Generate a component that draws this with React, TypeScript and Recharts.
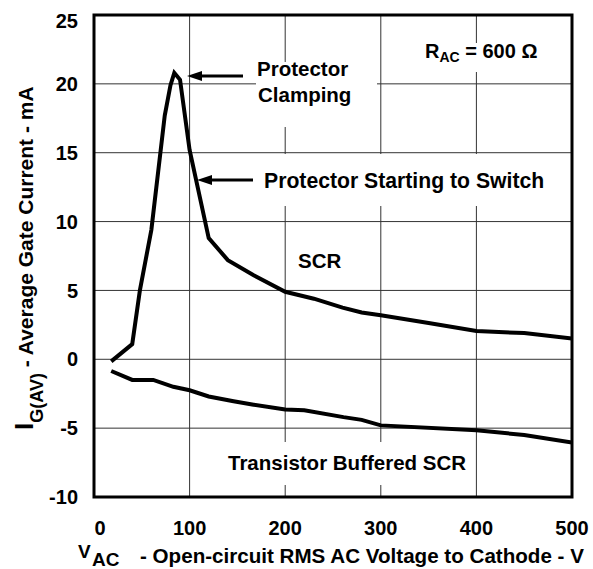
import React from 'react';
import {
  LineChart,
  Line,
  XAxis,
  YAxis,
  CartesianGrid,
  ReferenceArea,
  Customized,
} from 'recharts';

// SCR curve (upper)
const scrVoltage = [18, 40, 48, 60, 74, 80, 84, 90, 100, 120, 140, 167, 200, 230, 260, 280, 300, 350, 400, 450, 500];
const scrCurrent = [-0.15, 1.1, 5.0, 9.4, 17.7, 19.9, 20.8, 20.3, 15.2, 8.8, 7.2, 6.1, 4.9, 4.4, 3.75, 3.4, 3.2, 2.64, 2.05, 1.9, 1.5];

// Transistor buffered SCR curve (lower)
const bufVoltage = [18, 40, 62, 83, 100, 120, 146, 167, 200, 220, 261, 280, 300, 400, 450, 500];
const bufCurrent = [-0.85, -1.5, -1.5, -2.0, -2.25, -2.7, -3.05, -3.3, -3.65, -3.7, -4.2, -4.4, -4.8, -5.15, -5.5, -6.05];

const xTicks = [0, 100, 200, 300, 400, 500];
const yTicks = [-10, -5, 0, 5, 10, 15, 20, 25];

const FONT = '"Liberation Sans", Arial, Helvetica, sans-serif';

const scrData = scrVoltage.map((v, i) => ({ v, i: scrCurrent[i] }));
const bufData = bufVoltage.map((v, i) => ({ v, i: bufCurrent[i] }));

function YTick({ x, y, payload }: any) {
  const shift = payload.value === 25 ? 6 : 0;
  return (
    <text x={x - 14} y={y + shift} dy="0.36em" textAnchor="end" fontSize={20} fontWeight="bold" fontFamily={FONT} fill="#000">
      {payload.value}
    </text>
  );
}

function XTick({ x, y, payload }: any) {
  const shift = payload.value === 0 ? 6 : 0;
  return (
    <text x={x + shift} y={y + 36} textAnchor="middle" fontSize={20} fontWeight="bold" fontFamily={FONT} fill="#000">
      {payload.value}
    </text>
  );
}

function Overlay() {
  const t = { fontSize: 20.5, fontWeight: 'bold' as const, fontFamily: FONT, fill: '#000' };
  return (
    <g>
      {/* white knock-outs in the grid behind the labels */}
      <rect x={256} y={62} width={121} height={65} fill="#fff" />
      <rect x={255} y={154} width={296} height={52} fill="#fff" />
      <rect x={400} y={43} width={150} height={29} fill="#fff" />
      <rect x={220} y={442} width={250} height={43} fill="#fff" />

      {/* arrows */}
      <line x1={243} y1={76} x2={200} y2={76} stroke="#000" strokeWidth={3} />
      <polygon points="187,76 202,71 202,81" fill="#000" />
      <line x1={253} y1={180} x2={210} y2={180} stroke="#000" strokeWidth={3} />
      <polygon points="197,180 212,175 212,185" fill="#000" />

      <text x={257} y={76} {...t}>Protector</text>
      <text x={258} y={102} {...t}>Clamping</text>
      <text x={264} y={188} {...t} fontSize={21.2}>Protector Starting to Switch</text>
      <text x={298} y={268} {...t}>SCR</text>
      <text x={228} y={470} {...t}>Transistor Buffered SCR</text>

      <text x={425} y={58} {...t} fontSize={20}>
        R<tspan fontSize={14} dy={4}>AC</tspan>
        <tspan dy={-4}> = 600 Ω</tspan>
      </text>

      {/* y axis title */}
      <text transform="rotate(-90)" x={-430} y={33} {...t}>
        <tspan fontSize={26}>I</tspan>
        <tspan fontSize={18} dy={10}>G(AV)</tspan>
        <tspan dy={-10} fontSize={21}>{'  - Average Gate Current - mA'}</tspan>
      </text>

      {/* x axis title */}
      <text x={78} y={558} {...t} fontSize={19}>V</text>
      <text x={92} y={566} {...t} fontSize={19}>AC</text>
      <text x={140} y={563} {...t} fontSize={20.6}>- Open-circuit RMS AC Voltage to Cathode - V</text>
    </g>
  );
}

export default function App() {
  return (
    <div style={{ position: 'absolute', left: 0, top: 0, background: '#fff' }}>
      <LineChart
        width={593}
        height={569}
        margin={{ top: 15, right: 21, bottom: 0, left: 0 }}
      >
        <CartesianGrid stroke="#333" strokeWidth={1} />
        <XAxis
          type="number"
          dataKey="v"
          domain={[0, 500]}
          ticks={xTicks}
          allowDataOverflow
          height={72}
          axisLine={false}
          tickLine={false}
          tickSize={0}
          tick={<XTick />}
        />
        <YAxis
          type="number"
          domain={[-10, 25]}
          ticks={yTicks}
          allowDataOverflow
          width={94}
          axisLine={false}
          tickLine={false}
          tickSize={0}
          tick={<YTick />}
        />
        <ReferenceArea x1={0} x2={500} y1={-10} y2={25} fill="none" stroke="#000" strokeWidth={3} />
        <Line
          data={scrData}
          dataKey="i"
          type="linear"
          stroke="#000"
          strokeWidth={4}
          dot={false}
          isAnimationActive={false}
        />
        <Line
          data={bufData}
          dataKey="i"
          type="linear"
          stroke="#000"
          strokeWidth={4}
          dot={false}
          isAnimationActive={false}
        />
        <Customized component={<Overlay />} />
      </LineChart>
    </div>
  );
}
